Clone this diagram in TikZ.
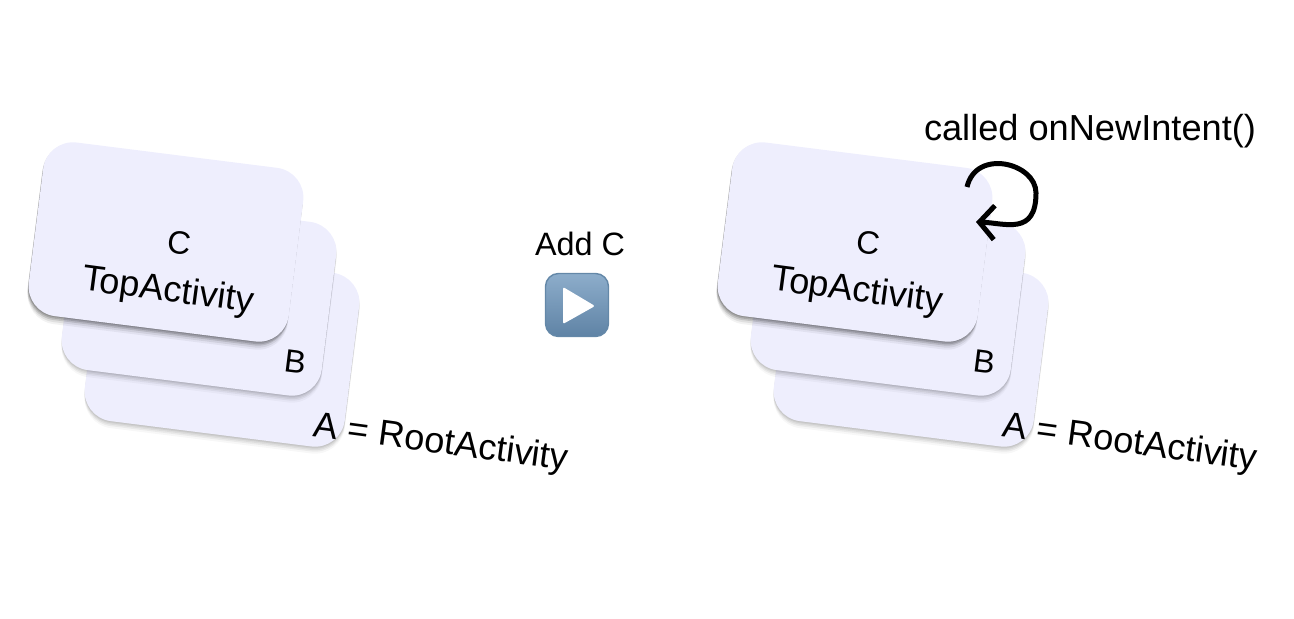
\documentclass[tikz,border=0pt]{standalone}
\usepackage{fontspec}
\setmainfont{Liberation Sans}
\usetikzlibrary{arrows.meta,shadows}
\definecolor{cardfill}{HTML}{EEEEFD}
\definecolor{playtop}{HTML}{8DADCB}
\definecolor{playbottom}{HTML}{5F83A5}
\definecolor{playedge}{HTML}{6488A8}
\tikzset{
  softshadow/.style={
    general shadow={shadow yshift=-.01cm,fill=black,opacity=.06},
    general shadow={shadow yshift=-.02cm,fill=black,opacity=.06},
    general shadow={shadow yshift=-.035cm,fill=black,opacity=.06},
    general shadow={shadow yshift=-.05cm,fill=black,opacity=.05},
    general shadow={shadow yshift=-.07cm,fill=black,opacity=.03}},
  topshadow/.style={
    general shadow={shadow xshift=-.005cm,shadow yshift=-.01cm,fill=black,opacity=.14},
    general shadow={shadow xshift=-.005cm,shadow yshift=-.025cm,fill=black,opacity=.14},
    general shadow={shadow xshift=-.01cm,shadow yshift=-.04cm,fill=black,opacity=.12},
    general shadow={shadow xshift=-.01cm,shadow yshift=-.06cm,fill=black,opacity=.08},
    general shadow={shadow xshift=-.01cm,shadow yshift=-.08cm,fill=black,opacity=.05}},
  card/.style={fill=cardfill,rounded corners=.3cm,minimum width=2.62cm,minimum height=1.75cm,rotate=-7.2},
  lbl/.style={font=\fontsize{9.2}{11}\selectfont,inner sep=0pt},
  biglbl/.style={font=\fontsize{10.3}{12}\selectfont,inner sep=0pt},
  tilted/.style={lbl,rotate=-7.2},
  bigtilted/.style={biglbl,rotate=-7.6}
}
\begin{document}
\begin{tikzpicture}
    \useasboundingbox (0,0) rectangle (12.94,6.18);
    % before
    \node[card,softshadow] (cardAleft) at (2.22,2.71) {};
    \node[card,softshadow] (cardBleft) at (1.99,3.22) {};
    \node[card,topshadow] (cardCleft) at (1.66,3.76) {};
    \node[tilted] (nameCleft) at (1.79,3.75) {C};
    \node[bigtilted] (topleft) at (1.68,3.26) {TopActivity};
    \node[tilted] (nameBleft) at (2.96,2.56) {B};
    \node[bigtilted] (rootleft) at (4.41,1.74) {A = RootActivity};
    % arrow in the middle
    \node[lbl] (addc) at (5.80,3.74) {Add C};
    \node[draw=playedge,line width=.4pt,top color=playtop,bottom color=playbottom,rounded corners=.13cm,minimum size=.63cm] (play) at (5.77,3.13) {};
    \fill[white,rounded corners=.02cm] (5.63,3.31) -- (5.63,2.94) -- (5.95,3.12) -- cycle;
    % after
    \node[card,softshadow] (cardAright) at (9.11,2.71) {};
    \node[card,softshadow] (cardBright) at (8.88,3.22) {};
    \node[card,topshadow] (cardCright) at (8.55,3.76) {};
    \node[tilted] (nameCright) at (8.68,3.75) {C};
    \node[bigtilted] (topright) at (8.57,3.26) {TopActivity};
    \node[tilted] (nameBright) at (9.85,2.56) {B};
    \node[bigtilted] (rootright) at (11.30,1.74) {A = RootActivity};
    \node[biglbl] (called) at (10.90,4.87) {called onNewIntent()};
    \coordinate (loopstart) at (9.67,4.31);
    \coordinate (loopend) at (9.76,3.96);
    \draw[line width=.05cm,-{Straight Barb[length=.15cm,width=.34cm]}] (loopstart) .. controls (9.76,4.70) and (10.36,4.55) .. (10.36,4.25) .. controls (10.36,3.82) and (10.05,3.95) .. (loopend);
\end{tikzpicture}
\end{document}
